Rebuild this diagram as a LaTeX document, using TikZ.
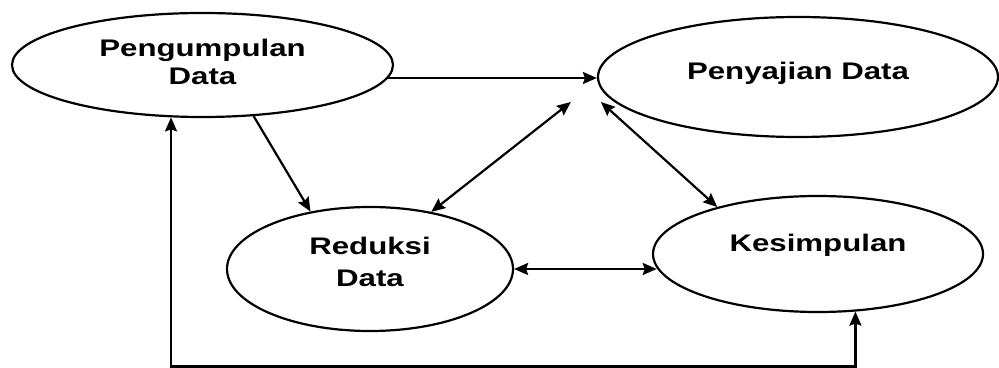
\documentclass[tikz,border=0pt]{standalone}
\usepackage{fontspec}
\setmainfont{Liberation Sans}[FakeStretch=1.3]
\usetikzlibrary{shapes.geometric,arrows.meta}

\begin{document}
\begin{tikzpicture}[x=0.5pt,y=-0.5pt,>={Stealth[length=7pt,width=6pt,inset=1pt]},
			line width=1.1pt,
			phase node/.style={ellipse,draw,inner sep=0pt,align=center,
				font=\bfseries\fontsize{12}{14}\selectfont}
			]
			\useasboundingbox (0,0) rectangle (999,368);
			
			\node[phase node,minimum width=190.5pt,minimum height=52pt,text depth=3.4pt] (PD) at (202.5,65) {Pengumpulan\\Data};
			\node[phase node,minimum width=200pt,minimum height=60pt,text depth=6.4pt] (SD) at (798,77) {Penyajian Data};
			\node[phase node,minimum width=143pt,minimum height=62pt,text depth=7.4pt] (RD) at (370,269) {Reduksi\\[2pt]Data};
			\node[phase node,minimum width=165pt,minimum height=58pt,text depth=11.4pt] (KS) at (818,254) {Kesimpulan};
			
			\draw[->] (PD.-4) -- (PD.-4 -| SD.west);
			\draw[->] (PD.-45) -- (RD.136);
			\draw[<->] (RD.43) -- ([shift={(-26,25)}]SD.west);
			\draw[<->] ([shift={(4,25)}]SD.west) -- (KS.155);
			\draw[<->] (RD.east) -- (RD.east -| KS.185);
			%	umpan balik
			\draw[<->] (KS.-57) -- ++(0,55) -| (PD.-121);
			
		\end{tikzpicture}
\end{document}
